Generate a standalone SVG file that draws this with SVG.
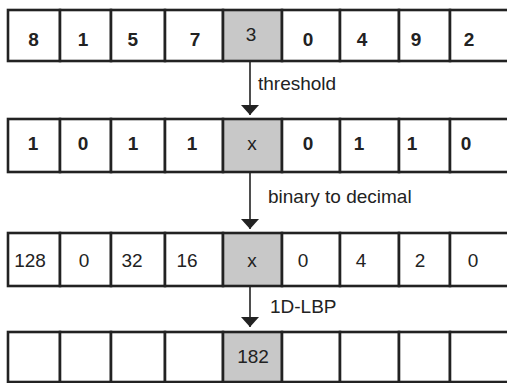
<svg xmlns="http://www.w3.org/2000/svg" width="507" height="383" viewBox="0 0 507 383">
<defs>
<style>
.c{fill:#ffffff;stroke:#222222;stroke-width:2.6}
.g{fill:#c8c8c8;stroke:#222222;stroke-width:2.6}
.t{font-family:"Liberation Sans",Arial,sans-serif;font-size:19px;fill:#222222;text-anchor:middle}
.b{font-weight:bold}
.lbl{font-family:"Liberation Sans",Arial,sans-serif;font-size:19px;fill:#222222}
.ar{stroke:#222222;stroke-width:1.6;fill:none}
</style>
<marker id="ah" viewBox="0 0 10 18" refX="10" refY="9" markerWidth="10" markerHeight="18" markerUnits="userSpaceOnUse" orient="auto">
<path d="M0,0 L18,9 L0,18 Z" fill="#222222" transform="scale(0.5556,1)"/>
</marker>
</defs>
<rect width="507" height="383" fill="#ffffff"/>

<g id="row1">
<g id="r1c1"><rect class="c" x="8" y="10" width="52" height="51"/><text class="t b" x="33.5" y="45.5">8</text></g>
<g id="r1c2"><rect class="c" x="60" y="10" width="51" height="51"/><text class="t b" x="83" y="45.5">1</text></g>
<g id="r1c3"><rect class="c" x="111" y="10" width="54" height="51"/><text class="t b" x="132.7" y="45.5">5</text></g>
<g id="r1c4"><rect class="c" x="165" y="10" width="58" height="51"/><text class="t b" x="195" y="45.5">7</text></g>
<g id="r1c5"><rect class="g" x="223" y="10" width="59" height="51"/><text class="t" x="251" y="40.7">3</text></g>
<g id="r1c6"><rect class="c" x="282" y="10" width="58" height="51"/><text class="t b" x="308" y="45.5">0</text></g>
<g id="r1c7"><rect class="c" x="340" y="10" width="59" height="51"/><text class="t b" x="362" y="45.5">4</text></g>
<g id="r1c8"><rect class="c" x="399" y="10" width="51" height="51"/><text class="t b" x="416" y="45.5">9</text></g>
<g id="r1c9"><rect class="c" x="450" y="10" width="62" height="51"/><text class="t b" x="469" y="45.5">2</text></g>
</g>

<g id="row2">
<g id="r2c1"><rect class="c" x="8" y="119" width="52" height="53"/><text class="t b" x="33" y="150">1</text></g>
<g id="r2c2"><rect class="c" x="60" y="119" width="51" height="53"/><text class="t b" x="83" y="150">0</text></g>
<g id="r2c3"><rect class="c" x="111" y="119" width="54" height="53"/><text class="t b" x="133" y="150">1</text></g>
<g id="r2c4"><rect class="c" x="165" y="119" width="58" height="53"/><text class="t b" x="192" y="150">1</text></g>
<g id="r2c5"><rect class="g" x="223" y="119" width="59" height="53"/><text class="t" x="252" y="150">x</text></g>
<g id="r2c6"><rect class="c" x="282" y="119" width="58" height="53"/><text class="t b" x="308" y="150">0</text></g>
<g id="r2c7"><rect class="c" x="340" y="119" width="59" height="53"/><text class="t b" x="359" y="150">1</text></g>
<g id="r2c8"><rect class="c" x="399" y="119" width="51" height="53"/><text class="t b" x="412" y="150">1</text></g>
<g id="r2c9"><rect class="c" x="450" y="119" width="62" height="53"/><text class="t b" x="466" y="150">0</text></g>
</g>

<g id="row3">
<g id="r3c1"><rect class="c" x="8" y="233" width="52" height="53"/><text class="t" x="30" y="267">128</text></g>
<g id="r3c2"><rect class="c" x="60" y="233" width="51" height="53"/><text class="t" x="84" y="267">0</text></g>
<g id="r3c3"><rect class="c" x="111" y="233" width="54" height="53"/><text class="t" x="132" y="267">32</text></g>
<g id="r3c4"><rect class="c" x="165" y="233" width="58" height="53"/><text class="t" x="187" y="267">16</text></g>
<g id="r3c5"><rect class="g" x="223" y="233" width="59" height="53"/><text class="t" x="252" y="267">x</text></g>
<g id="r3c6"><rect class="c" x="282" y="233" width="58" height="53"/><text class="t" x="303" y="267">0</text></g>
<g id="r3c7"><rect class="c" x="340" y="233" width="59" height="53"/><text class="t" x="361" y="267">4</text></g>
<g id="r3c8"><rect class="c" x="399" y="233" width="51" height="53"/><text class="t" x="420" y="267">2</text></g>
<g id="r3c9"><rect class="c" x="450" y="233" width="62" height="53"/><text class="t" x="473" y="267">0</text></g>
</g>

<g id="row4">
<g id="r4c1"><rect class="c" x="8" y="332" width="52" height="50"/></g>
<g id="r4c2"><rect class="c" x="60" y="332" width="51" height="50"/></g>
<g id="r4c3"><rect class="c" x="111" y="332" width="54" height="50"/></g>
<g id="r4c4"><rect class="c" x="165" y="332" width="58" height="50"/></g>
<g id="r4c5"><rect class="g" x="223" y="332" width="59" height="50"/><text class="t" x="253" y="363">182</text></g>
<g id="r4c6"><rect class="c" x="282" y="332" width="58" height="50"/></g>
<g id="r4c7"><rect class="c" x="340" y="332" width="59" height="50"/></g>
<g id="r4c8"><rect class="c" x="399" y="332" width="51" height="50"/></g>
<g id="r4c9"><rect class="c" x="450" y="332" width="62" height="50"/></g>
</g>

<g id="connectors">
<line class="ar" x1="250" y1="62" x2="250" y2="115" marker-end="url(#ah)"/>
<line class="ar" x1="250" y1="173" x2="250" y2="229" marker-end="url(#ah)"/>
<line class="ar" x1="250" y1="287" x2="250" y2="327" marker-end="url(#ah)"/>
<text class="lbl" x="258" y="90">threshold</text>
<text class="lbl" x="268" y="203">binary to decimal</text>
<text class="lbl" x="270" y="313">1D-LBP</text>
</g>
</svg>
